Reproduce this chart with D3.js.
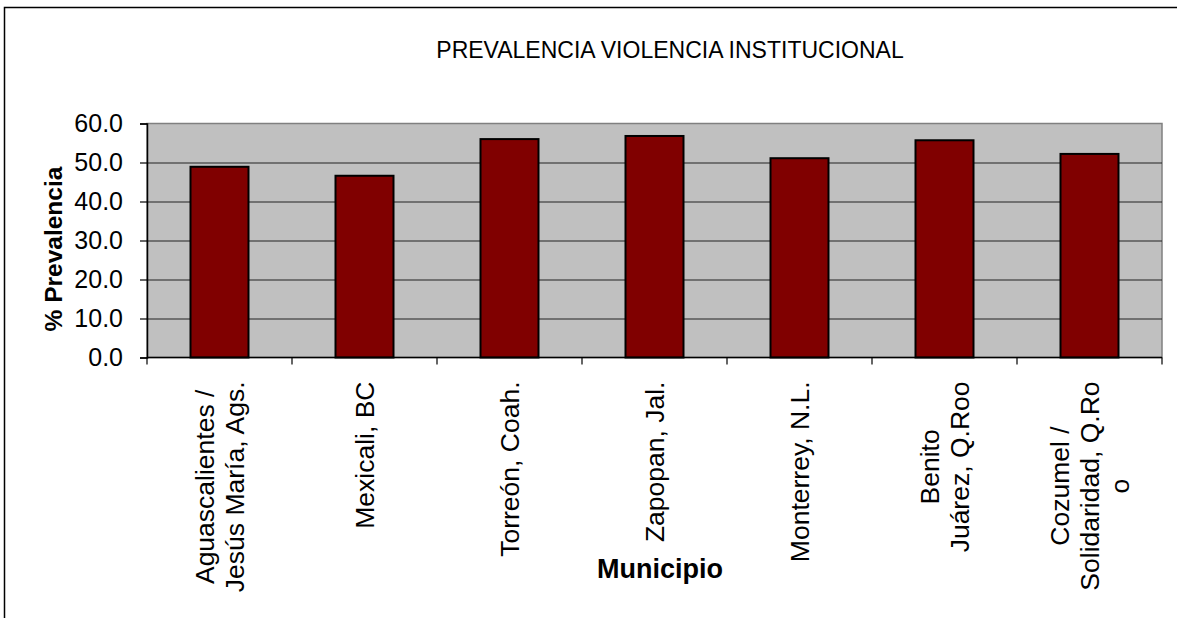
<!DOCTYPE html>
<html>
<head>
<meta charset="utf-8">
<script src="https://cdn.jsdelivr.net/npm/d3@7"></script>
<style>
  body { margin: 0; background: #fff; }
  svg { display: block; font-family: "Liberation Sans", Arial, sans-serif; }
</style>
</head>
<body>
<svg width="1177" height="618"></svg>
<script>
// datos del grafico
var municipios = [
  ["Aguascalientes /", "Jesús María, Ags."],
  ["Mexicali, BC"],
  ["Torreón, Coah."],
  ["Zapopan, Jal."],
  ["Monterrey, N.L."],
  ["Benito", "Juárez, Q.Roo"],
  ["Cozumel /", "Solidaridad, Q.Ro", "o"]
];
var prevalencia = [48.9, 46.6, 56.0, 56.8, 51.1, 55.7, 52.2];
var yTicks = [0, 10, 20, 30, 40, 50, 60];

var svg = d3.select("svg"),
    margin = { top: 123.5, right: 15, bottom: 260.5, left: 147 },
    width = +svg.attr("width") - margin.left - margin.right,
    height = +svg.attr("height") - margin.top - margin.bottom;

// marco exterior
svg.append("rect")
  .attr("x", 4.5).attr("y", 7.5)
  .attr("width", 1200).attr("height", 700)
  .attr("fill", "none").attr("stroke", "#000").attr("stroke-width", 1.5);

var ids = municipios.map(function (d, i) { return i; });

var x = d3.scaleBand().domain(ids).range([0, width]).paddingInner(0).paddingOuter(0);
var y = d3.scaleLinear().domain([0, 60]).range([height, 0]);

var g = svg.append("g").attr("transform", "translate(" + margin.left + "," + margin.top + ")");

// fondo del area de trazado
g.append("rect")
  .attr("width", width).attr("height", height)
  .attr("fill", "#c0c0c0").attr("stroke", "#808080").attr("stroke-width", 1.5);

// lineas de cuadricula
g.append("g")
  .selectAll("line")
  .data(yTicks.filter(function (d) { return d > 0 && d < 60; }))
  .enter().append("line")
  .attr("x1", 0).attr("x2", width)
  .attr("y1", function (d) { return Math.round(y(d)) + 0.5; })
  .attr("y2", function (d) { return Math.round(y(d)) + 0.5; })
  .attr("stroke", "#222").attr("stroke-width", 1.2);

// barras
var barW = x.bandwidth() * 0.4;
g.selectAll(".bar")
  .data(prevalencia)
  .enter().append("rect")
  .attr("class", "bar")
  .attr("x", function (d, i) { return x(i) + (x.bandwidth() - barW) / 2; })
  .attr("y", function (d) { return y(d); })
  .attr("width", barW)
  .attr("height", function (d) { return height - y(d); })
  .attr("fill", "#800000")
  .attr("stroke", "#000").attr("stroke-width", 2);

// eje Y
var yAxis = g.append("g")
  .call(d3.axisLeft(y).tickValues(yTicks).tickSize(7).tickPadding(17)
    .tickFormat(d3.format(".1f")));
yAxis.select(".domain").attr("stroke", "#000").attr("stroke-width", 1.5);
yAxis.selectAll(".tick line").attr("stroke", "#000").attr("stroke-width", 1.2);
yAxis.selectAll(".tick text")
  .attr("font-size", 25).attr("fill", "#000")
  .attr("font-family", "Liberation Sans, Arial, sans-serif");

// eje X
var xAxis = g.append("g").attr("transform", "translate(0," + height + ")");
xAxis.append("line")
  .attr("x1", 0).attr("x2", width)
  .attr("stroke", "#000").attr("stroke-width", 1.5);
xAxis.selectAll(".tk")
  .data(d3.range(ids.length + 1))
  .enter().append("line")
  .attr("x1", function (d) { return d * x.step(); })
  .attr("x2", function (d) { return d * x.step(); })
  .attr("y1", 0).attr("y2", 7)
  .attr("stroke", "#000").attr("stroke-width", 1.2);

// etiquetas rotadas, centradas en bloque
var labels = xAxis.selectAll(".lbl")
  .data(municipios)
  .enter().append("text")
  .attr("class", "lbl")
  .attr("font-size", 26.5)
  .attr("fill", "#000");

labels.each(function (lines, i) {
  var t = d3.select(this);
  lines.forEach(function (s) { t.append("tspan").text(s); });
  var maxLen = 0;
  t.selectAll("tspan").each(function () { maxLen = Math.max(maxLen, this.getComputedTextLength()); });
  var cx = x(i) + x.bandwidth() / 2;
  var cy = 24 + maxLen / 2;
  var lh = 30;
  t.attr("transform", "translate(" + cx + "," + cy + ") rotate(-90)")
    .attr("text-anchor", "middle");
  t.selectAll("tspan")
    .attr("x", 0)
    .attr("y", function (d, j) { return (j - (lines.length - 1) / 2) * lh; })
    .attr("dy", "0.35em");
});

// titulos
svg.append("text")
  .attr("x", 670).attr("y", 58)
  .attr("text-anchor", "middle")
  .attr("font-size", 23)
  .text("PREVALENCIA VIOLENCIA INSTITUCIONAL");

svg.append("text")
  .attr("transform", "translate(62,249) rotate(-90)")
  .attr("text-anchor", "middle")
  .attr("font-size", 24.5).attr("font-weight", "bold")
  .text("% Prevalencia");

svg.append("text")
  .attr("x", 660).attr("y", 578)
  .attr("text-anchor", "middle")
  .attr("font-size", 27).attr("font-weight", "bold")
  .text("Municipio");
</script>
</body>
</html>
